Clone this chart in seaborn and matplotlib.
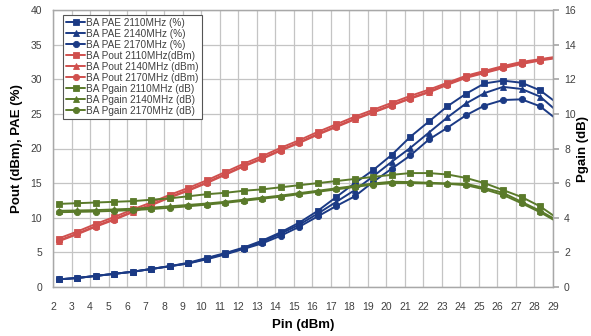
import matplotlib
matplotlib.use("Agg")
import matplotlib.pyplot as plt
import seaborn as sns
import pandas as pd
import numpy as np

# ---------------- data ----------------
pin = [2.3, 3.3, 4.3, 5.3, 6.3, 7.3, 8.3, 9.3, 10.3, 11.3, 12.3, 13.3, 14.3, 15.3,
       16.3, 17.3, 18.3, 19.3, 20.3, 21.3, 22.3, 23.3, 24.3, 25.3, 26.3, 27.3, 28.3, 29.3]

pae_2110 = [1.1, 1.3, 1.6, 1.9, 2.2, 2.6, 3.0, 3.5, 4.2, 4.9, 5.7, 6.7, 7.9, 9.3,
            11.0, 13.0, 15.0, 16.9, 19.1, 21.7, 23.9, 26.1, 27.9, 29.4, 29.8, 29.5, 28.4, 26.4]
pae_2140 = [1.1, 1.3, 1.6, 1.9, 2.2, 2.6, 3.0, 3.4, 4.1, 4.8, 5.6, 6.5, 7.7, 9.0,
            10.6, 12.3, 14.0, 16.0, 18.1, 20.1, 22.3, 24.5, 26.5, 28.0, 28.9, 28.6, 27.5, 25.2]
pae_2170 = [1.1, 1.3, 1.6, 1.9, 2.2, 2.6, 3.0, 3.4, 4.0, 4.7, 5.5, 6.3, 7.4, 8.7,
            10.2, 11.7, 13.1, 15.2, 17.1, 19.0, 21.3, 23.0, 24.8, 26.2, 27.0, 27.1, 26.1, 24.0]

pout_2110 = [7.0, 8.0, 9.1, 10.1, 11.2, 12.2, 13.3, 14.3, 15.4, 16.6, 17.8, 18.9, 20.1, 21.2,
             22.4, 23.5, 24.6, 25.6, 26.6, 27.6, 28.5, 29.5, 30.5, 31.2, 31.9, 32.5, 32.9, 33.3]
pout_2140 = [6.7, 7.7, 8.8, 9.8, 10.9, 11.9, 13.0, 14.0, 15.1, 16.3, 17.5, 18.6, 19.8, 20.9,
             22.1, 23.2, 24.3, 25.3, 26.3, 27.3, 28.2, 29.3, 30.3, 31.0, 31.7, 32.3, 32.8, 33.2]
pout_2170 = [6.6, 7.6, 8.7, 9.7, 10.8, 11.8, 12.9, 13.9, 15.0, 16.2, 17.4, 18.5, 19.7, 20.8,
             22.0, 23.1, 24.2, 25.2, 26.2, 27.2, 28.1, 29.2, 30.2, 30.9, 31.6, 32.2, 32.7, 33.1]

pgain_2110 = [4.80, 4.84, 4.88, 4.92, 4.96, 5.04, 5.12, 5.24, 5.36, 5.44, 5.56, 5.64, 5.76, 5.88,
              6.00, 6.12, 6.24, 6.36, 6.48, 6.58, 6.58, 6.50, 6.30, 6.00, 5.60, 5.20, 4.66, 3.92]
pgain_2140 = [4.40, 4.42, 4.44, 4.48, 4.52, 4.58, 4.66, 4.74, 4.82, 4.92, 5.04, 5.16, 5.28, 5.42,
              5.56, 5.70, 5.84, 5.98, 6.08, 6.06, 6.02, 5.98, 5.96, 5.72, 5.44, 4.92, 4.40, 3.80]
pgain_2170 = [4.32, 4.34, 4.36, 4.40, 4.44, 4.50, 4.58, 4.66, 4.76, 4.86, 4.98, 5.10, 5.22, 5.36,
              5.50, 5.64, 5.78, 5.92, 6.00, 6.00, 5.98, 5.96, 5.88, 5.64, 5.32, 4.84, 4.32, 3.72]

x_ticks = list(range(2, 30))
left_ticks = [0, 5, 10, 15, 20, 25, 30, 35, 40]
right_ticks = [0, 2, 4, 6, 8, 10, 12, 14, 16]

BLUE = "#1B3A85"
RED = "#D0504E"
GREEN = "#5A7A2A"

left_series = [
    ("BA PAE 2110MHz (%)", pae_2110, BLUE, "s"),
    ("BA PAE 2140MHz (%)", pae_2140, BLUE, "^"),
    ("BA PAE 2170MHz (%)", pae_2170, BLUE, "o"),
    ("BA Pout 2110MHz(dBm)", pout_2110, RED, "s"),
    ("BA Pout 2140MHz (dBm)", pout_2140, RED, "^"),
    ("BA Pout 2170MHz (dBm)", pout_2170, RED, "o"),
]
right_series = [
    ("BA Pgain 2110MHz (dB)", pgain_2110, GREEN, "s"),
    ("BA Pgain 2140MHz (dB)", pgain_2140, GREEN, "^"),
    ("BA Pgain 2170MHz (dB)", pgain_2170, GREEN, "o"),
]

# ---------------- style ----------------
sns.set_theme(style="white")
plt.rcParams["font.family"] = ["Liberation Sans", "DejaVu Sans"]

fig = plt.figure(figsize=(5.91, 3.36), dpi=100)
ax = fig.add_axes([53 / 591, 49 / 336, 500 / 591, 277 / 336])
ax2 = ax.twinx()

def draw(axis, series):
    for label, vals, color, mk in series:
        df = pd.DataFrame({"Pin": pin, "val": vals})
        sns.lineplot(data=df, x="Pin", y="val", ax=axis, color=color, marker=mk,
                     markersize=4.5, markeredgewidth=0.6, markeredgecolor=color,
                     linewidth=1.4, label=label, legend=False, sort=False)

draw(ax, left_series)
draw(ax2, right_series)

ax.set_xlim(2, 29)
ax.set_ylim(0, 40)
ax2.set_ylim(0, 16)
ax.set_xticks(x_ticks)
ax.set_yticks(left_ticks)
ax2.set_yticks(right_ticks)

grid_c = "#C4C4C4"
ax.grid(True, color=grid_c, linewidth=0.9)
ax2.grid(False)
ax.set_axisbelow(True)

for a in (ax, ax2):
    for s in a.spines.values():
        s.set_color("#A8A8A8")
        s.set_linewidth(0.9)

tick_c = "#404040"
ax.tick_params(axis="x", labelsize=7.5, colors=tick_c, length=3, pad=8, color="#A8A8A8")
ax.tick_params(axis="y", labelsize=7.5, colors=tick_c, length=0, pad=8)
ax2.tick_params(axis="y", labelsize=7.5, colors=tick_c, length=4, pad=4, color="#A8A8A8")

ax.set_xlabel("Pin (dBm)", fontsize=9.5, fontweight="bold", color="black", labelpad=5)
ax.set_ylabel("Pout (dBm), PAE (%)", fontsize=9.5, fontweight="bold", color="black", labelpad=5)
ax2.set_ylabel("Pgain (dB)", fontsize=9.5, fontweight="bold", color="black", labelpad=1)

h1, l1 = ax.get_legend_handles_labels()
h2, l2 = ax2.get_legend_handles_labels()
leg = ax2.legend(h1 + h2, l1 + l2, loc="upper left", bbox_to_anchor=(0.02, 0.982),
                 fontsize=7.2, frameon=True, fancybox=False, framealpha=1,
                 edgecolor="#555555", handlelength=1.9, handletextpad=0.1,
                 labelspacing=0.1, borderpad=0.3, borderaxespad=0)
leg.get_frame().set_linewidth(0.8)
for t in leg.get_texts():
    t.set_color("#404040")

fig.savefig("out.png", dpi=100, facecolor="white")
